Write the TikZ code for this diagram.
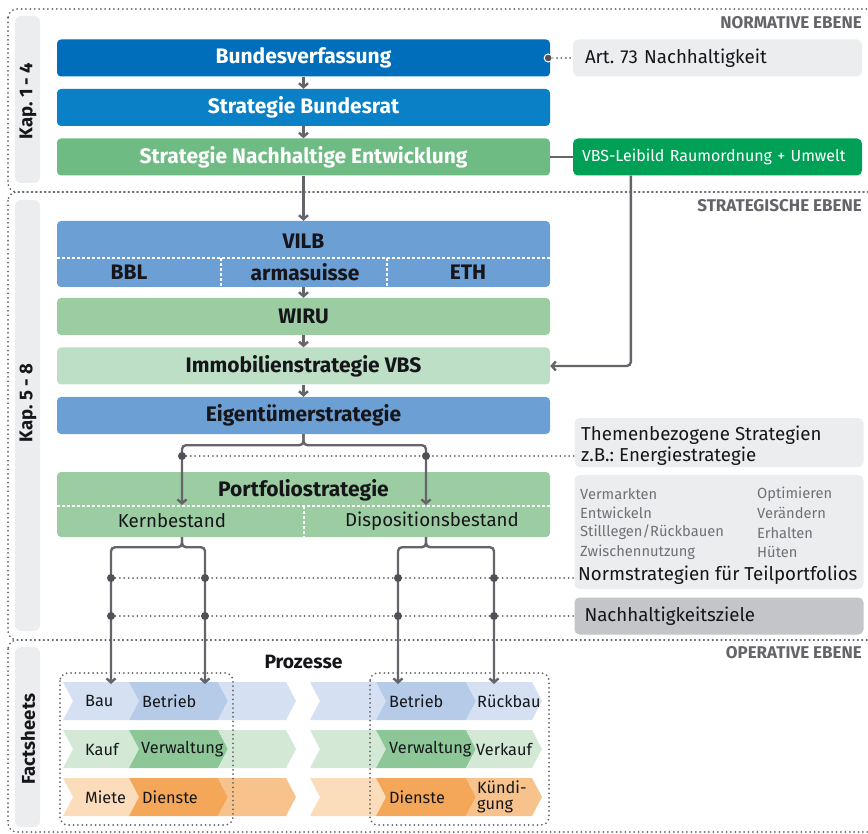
\documentclass[tikz,border=0pt]{standalone}
\usepackage{fontspec}
\setmainfont{Fira Sans}
\usepackage{tikz}
\usetikzlibrary{calc, positioning, arrows.meta}
\usepackage{xcolor}
\definecolor{bvBlue}{RGB}{0, 110, 186}
\definecolor{brBlue}{RGB}{10, 128, 198}
\definecolor{sneGreen}{RGB}{110, 187, 131}
\definecolor{leitGreen}{RGB}{0, 161, 87}
\definecolor{vilbBlue}{RGB}{108, 159, 212}
\definecolor{wiruGreen}{RGB}{156, 205, 162}
\definecolor{immoGreen}{RGB}{188, 223, 197}
\definecolor{tabGray}{RGB}{236, 237, 239}
\definecolor{nachGray}{RGB}{196, 197, 201}
\definecolor{lineGray}{RGB}{100, 100, 106}
\definecolor{dotGray}{RGB}{80, 80, 86}
\definecolor{txtDark}{RGB}{22, 22, 26}
\definecolor{listGray}{RGB}{112, 112, 118}
\definecolor{blueL}{RGB}{213, 225, 242}
\definecolor{blueD}{RGB}{181, 203, 232}
\definecolor{greenL}{RGB}{211, 233, 214}
\definecolor{greenD}{RGB}{141, 199, 152}
\definecolor{orangeL}{RGB}{251, 221, 188}
\definecolor{orangeM}{RGB}{247, 194, 140}
\definecolor{orangeD}{RGB}{244, 167, 89}
\frenchspacing
\newcommand{\titlefont}{\fontsize{21}{23}\selectfont\bfseries}
\newcommand{\boxfont}{\fontsize{18.7}{21}\selectfont}
% chevron: left x, right x, top y, colour
\newcommand{\pchev}[4]{%
  \fill[#4] (#1,#3) -- (#2,#3) -- (#2+10,#3+19) -- (#2,#3+38)
    -- (#1,#3+38) -- (#1+10,#3+19) -- cycle;}

\begin{document}
\begin{tikzpicture}[x=1pt, y=-1pt, >={Straight Barb[length=4pt, width=9pt]},
  every node/.style={inner sep=0pt, text=txtDark},
  mainbox/.style={rounded corners=4pt, minimum width=493pt, minimum height=37pt, font=\titlefont},
  sidebox/.style={rounded corners=5pt, minimum width=289pt, minimum height=37pt,
    inner xsep=10pt, text width=269pt, align=left, font=\boxfont},
  tab/.style={fill=tabGray, rounded corners=6pt, minimum width=25pt},
  tablabel/.style={rotate=90, font=\fontsize{18.5}{20}\selectfont\bfseries},
  layer/.style={draw=lineGray, line width=2pt, line cap=round, dash pattern=on 0pt off 4.4pt, rounded corners=9pt},
  layerlabel/.style={anchor=east, text=lineGray, font=\fontsize{17}{19}\selectfont\bfseries},
  conn/.style={draw=lineGray, line width=2.4pt},
  dotline/.style={draw=lineGray, line width=2pt, line cap=round, dash pattern=on 0pt off 4.4pt},
  celldiv/.style={draw=white, line width=1.5pt, dash pattern=on 3pt off 2pt},
  junction/.style={circle, fill=dotGray, minimum size=8pt},
  listtext/.style={anchor=west, text=listGray, font=\fontsize{14.7}{16}\selectfont},
  proztext/.style={anchor=west, font=\fontsize{16.3}{16}\selectfont, align=left}]
  \useasboundingbox (0,0) rectangle (868,834);
  \clip (0,0) rectangle (868,834);

  % layers
  \draw[layer] (8,9) rectangle (885,192);
  \draw[layer] (8,192) rectangle (885,640);
  \draw[layer] (8,640) rectangle (885,832);
  \node[layerlabel] (lNorm) at (862,23) {NORMATIVE EBENE};
  \node[layerlabel] (lStrat) at (862,206) {STRATEGISCHE EBENE};
  \node[layerlabel] (lOper) at (862,653) {OPERATIVE EBENE};

  % side tabs
  \node[tab, minimum height=167pt] (tab1) at (27.5,99.5) {};
  \node[tablabel] (tab1T) at (28,101) {Kap. 1 - 4};
  \node[tab, minimum height=431pt] (tab2) at (27.5,415.5) {};
  \node[tablabel] (tab2T) at (28,403) {Kap. 5 - 8};
  \node[tab, minimum height=180pt] (tab3) at (27.5,737) {};
  \node[tablabel] (tab3T) at (28,739) {Factsheets};

  % normative level
  \node[mainbox, fill=bvBlue, text=white] (bv) at (303.5,58) {Bundesverfassung};
  \node[mainbox, fill=brBlue, text=white] (br) at (303.5,107.5) {Strategie Bundesrat};
  \node[mainbox, fill=sneGreen, text=white] (sne) at (303.5,157) {Strategie Nachhaltige Entwicklung};
  \node[sidebox, fill=tabGray, inner xsep=12pt, text width=265pt] (art) at (717.5,58) {Art. 73 Nachhaltigkeit};
  \node[sidebox, fill=leitGreen, text=white, font=\fontsize{16}{18}\selectfont, inner xsep=9pt, text width=271pt]
    (leit) at (717.5,157) {VBS-Leibild Raumordnung + Umwelt};

  % strategic level
  \node[mainbox, fill=vilbBlue, minimum height=66pt] (vilb) at (303.5,254) {};
  \draw[celldiv] (vilb.west |- 0,258) -- (vilb.east |- 0,258);
  \draw[celldiv] (221,258) -- (221,287);
  \draw[celldiv] (387,258) -- (387,287);
  \node[font=\titlefont] (vilbT) at (303.5,241) {VILB};
  \node[font=\titlefont] (bbl) at (129,272) {BBL};
  \node[font=\titlefont] (arma) at (305,272) {armasuisse};
  \node[font=\titlefont] (eth) at (468,272) {ETH};
  \node[mainbox, fill=wiruGreen] (wiru) at (303.5,316.5) {WIRU};
  \node[mainbox, fill=immoGreen] (immo) at (303.5,366) {Immobilienstrategie VBS};
  \node[mainbox, fill=vilbBlue] (eig) at (303.5,415.5) {Eigentümerstrategie};
  \node[mainbox, fill=wiruGreen, minimum height=65pt] (pf) at (303.5,504.5) {};
  \draw[celldiv] (pf.west |- 0,506) -- (pf.east |- 0,506);
  \draw[celldiv] (304,506) -- (304,537);
  \node[font=\titlefont] (pfT) at (303.5,490) {Portfoliostrategie};
  \node[font=\boxfont] (kern) at (172,521) {Kernbestand};
  \node[font=\boxfont] (dispo) at (432,521) {Dispositionsbestand};
  \coordinate (kIn) at (182,505);
  \coordinate (dIn) at (426,505);

  \node[sidebox, fill=tabGray, minimum height=49pt] (themen) at (719,442.5) {};
  \node[anchor=west, align=left, font=\fontsize{18.7}{21}\selectfont] (themenT) at (581,446)
    {Themenbezogene Strategien\\z.B.: Energiestrategie};
  \node[sidebox, fill=tabGray, minimum height=114pt] (normbox) at (719,532) {};
  \foreach \tl/\tr [count=\i] in {Vermarkten/Optimieren, Entwickeln/Verändern,
      Stilllegen\slash Rückbauen/Erhalten, Zwischennutzung/Hüten} {
    \node[listtext] (lstL\i) at (580,{494+19.3*(\i-1)}) {\tl};
    \node[listtext] (lstR\i) at (757,{494+19.3*(\i-1)}) {\tr};
  }
  \node[anchor=west, font=\boxfont] (normT) at (578,575) {Normstrategien für Teilportfolios};
  \node[sidebox, fill=nachGray] (nachz) at (719,616) {Nachhaltigkeitsziele};

  % operative level: processes
  \node[font=\fontsize{19.3}{21}\selectfont\bfseries] (proz) at (303.5,662) {Prozesse};
  \foreach \ry/\cl/\cd/\cm in {682/blueL/blueD/blueL, 730/greenL/greenD/greenL,
      778/orangeL/orangeD/orangeM} {
    \pchev{63}{129}{\ry}{\cl}
    \pchev{129}{218}{\ry}{\cd}
    \pchev{218}{286}{\ry}{\cm}
    \pchev{310}{376}{\ry}{\cl}
    \pchev{376}{466}{\ry}{\cd}
    \pchev{466}{532}{\ry}{\cm}
  }
  \node[proztext] (bau) at (85,701) {Bau};
  \node[proztext] (betrA) at (142,701) {Betrieb};
  \node[proztext] (betrB) at (389,701) {Betrieb};
  \node[proztext] (rueck) at (477,701) {Rückbau};
  \node[proztext] (kauf) at (85,749) {Kauf};
  \node[proztext] (verwA) at (141,749) {Verwaltung};
  \node[proztext] (verwB) at (389,749) {Verwaltung};
  \node[proztext] (verk) at (476,749) {Verkauf};
  \node[proztext] (miete) at (85,797) {Miete};
  \node[proztext] (diensA) at (142,797) {Dienste};
  \node[proztext] (diensB) at (389,797) {Dienste};
  \node[proztext] (kuend) at (477,797) {Kündi-\\gung};
  \draw[layer, rounded corners=8pt] (60,673) rectangle (233,825);
  \draw[layer, rounded corners=8pt] (370,673) rectangle (549,825);
  \coordinate (bauIn) at (111,684);
  \coordinate (betrAIn) at (205,684);
  \coordinate (betrBIn) at (398,684);
  \coordinate (rueckIn) at (494,684);

  % dotted links
  \coordinate (bvDot) at ($(bv.east)+(-2,0)$);
  \draw[dotline] (bvDot) -- (art.west);
  \coordinate (kT) at (182,456);
  \coordinate (dT) at (426,456);
  \draw[dotline] (kT) -- (kT -| themen.west);
  \coordinate (nA) at (111,578);
  \coordinate (nB) at (111,616);
  \draw[dotline] (nA) -- (nA -| normbox.west);
  \draw[dotline] (nB) -- (nB -| nachz.west);

  % connectors
  \draw[conn, ->] (bv) -- (br);
  \draw[conn, ->] (br) -- (sne);
  \draw[conn, ->] (sne) -- (vilb);
  \draw[conn, ->] (vilb) -- (wiru);
  \draw[conn, ->] (wiru) -- (immo);
  \draw[conn, ->] (immo) -- (eig);
  \draw[conn] (sne.east) -- (leit.west);
  \draw[conn, ->, rounded corners=4pt] ($(leit.south west)+(58,0)$) |- (immo.east);
  \draw[conn, ->, rounded corners=4pt] (eig.south) -- ++(0,11) -| (kIn);
  \draw[conn, ->, rounded corners=4pt] (eig.south) -- ++(0,11) -| (dIn);
  \draw[conn, ->, rounded corners=4pt] (kIn |- pf.south) -- ++(0,10) -| (bauIn);
  \draw[conn, ->, rounded corners=4pt] (kIn |- pf.south) -- ++(0,10) -| (betrAIn);
  \draw[conn, ->, rounded corners=4pt] (dIn |- pf.south) -- ++(0,10) -| (betrBIn);
  \draw[conn, ->, rounded corners=4pt] (dIn |- pf.south) -- ++(0,10) -| (rueckIn);

  % junction dots
  \node[junction, draw=white, line width=1pt] (jArt) at (bvDot) {};
  \node[junction] (jK) at (kT) {};
  \node[junction] (jD) at (dT) {};
  \foreach \x in {111,205,398,494} {
    \node[junction] (ja\x) at (\x,578) {};
    \node[junction] (jb\x) at (\x,616) {};
  }
\end{tikzpicture}
\end{document}
